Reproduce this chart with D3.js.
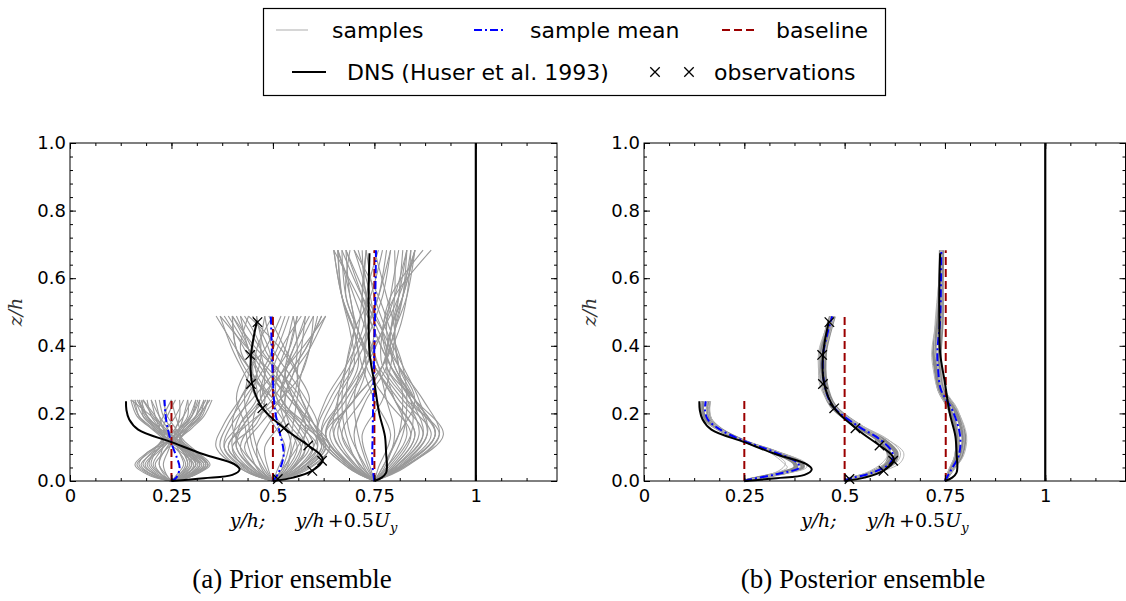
<!DOCTYPE html>
<html>
<head>
<meta charset="utf-8">
<script src="https://cdn.jsdelivr.net/npm/d3@7"></script>
<style>
  body { margin: 0; background: #fff; }
</style>
</head>
<body>
<script>
// ---- data (x = y/h + 0.5 Uy, z = z/h) ----
var stations = [0.25, 0.5, 0.75];

// DNS profiles (same in both panels)
var dnsZ1 = [0, 0.008, 0.018, 0.034, 0.05, 0.079, 0.115, 0.152, 0.182, 0.21, 0.236];
var dnsX1 = [0.25, 0.33, 0.40, 0.418, 0.405, 0.329, 0.25, 0.168, 0.146, 0.139, 0.138];
var dnsZ2 = [0, 0.01, 0.03, 0.062, 0.08, 0.105, 0.157, 0.216, 0.288, 0.372, 0.474];
var dnsX2 = [0.5, 0.55, 0.596, 0.623, 0.615, 0.587, 0.527, 0.474, 0.449, 0.446, 0.461];
var dnsZ3 = [0, 0.01, 0.025, 0.044, 0.08, 0.133, 0.2, 0.29, 0.379, 0.48, 0.575, 0.674];
var dnsX3 = [0.75, 0.768, 0.779, 0.781, 0.779, 0.776, 0.762, 0.75, 0.738, 0.736, 0.736, 0.738];

// observations
var obsZ = [0.006, 0.03, 0.06, 0.105, 0.156, 0.215, 0.287, 0.373, 0.47];
var obsX = [0.512, 0.597, 0.621, 0.587, 0.527, 0.474, 0.446, 0.444, 0.462];

// baseline heights
var baseTop = [0.24, 0.488, 0.683];
var baseX = [0.25, 0.5, 0.75];
var baseXPost = [0.25, 0.5, 0.752];

// prior mean
var priorMeanZ1 = [0, 0.01, 0.04, 0.07, 0.112, 0.16, 0.2, 0.24];
var priorMeanX1 = [0.25, 0.262, 0.27, 0.263, 0.25, 0.24, 0.235, 0.233];
var priorMeanZ2 = [0, 0.02, 0.072, 0.1, 0.142, 0.21, 0.3, 0.4, 0.487];
var priorMeanX2 = [0.5, 0.512, 0.526, 0.525, 0.517, 0.505, 0.5, 0.497, 0.495];
var priorMeanZ3 = [0, 0.05, 0.15, 0.3, 0.45, 0.6, 0.683];
var priorMeanX3 = [0.75, 0.745, 0.746, 0.748, 0.751, 0.753, 0.754];

// prior samples: offsets from station at these heights
var priorZ1 = [0, 0.014, 0.048, 0.084, 0.12, 0.156, 0.192, 0.24];
var priorZ2 = [0, 0.03, 0.1, 0.17, 0.244, 0.317, 0.39, 0.488];
var priorZ3 = [0, 0.04, 0.137, 0.24, 0.34, 0.444, 0.546, 0.683];

var priorOff1 = [
  [0, .04, .08, .05, .01, -.03, -.06, -.08],
  [0, .05, .09, .06, .02, .03, .06, .08],
  [0, -.03, -.07, -.05, -.02, .02, .05, .07],
  [0, -.04, -.08, -.06, -.01, -.04, -.07, -.09],
  [0, .02, .05, .03, .0, -.02, -.03, -.04],
  [0, .03, .06, .04, .02, .04, .07, .09],
  [0, -.02, -.04, -.02, .0, .02, .03, .04],
  [0, .035, .07, .05, .025, .0, -.02, -.03],
  [0, -.035, -.065, -.04, -.015, -.03, -.05, -.06],
  [0, .045, .085, .055, .015, -.02, -.05, -.1],
  [0, .01, .03, .02, .01, .03, .05, .06],
  [0, -.01, -.03, -.02, .01, .03, .06, .085],
  [0, .04, .075, .04, -.005, -.04, -.07, -.07],
  [0, -.045, -.085, -.055, -.02, .01, .02, .02],
  [0, .03, .06, .035, -.01, -.045, -.08, -.095],
  [0, .02, .04, .03, .02, .04, .06, .07],
  [0, -.02, -.05, -.04, -.02, -.03, -.04, -.05],
  [0, .05, .09, .06, .025, .02, .01, .0],
  [0, .035, .065, .045, .02, .045, .075, .09],
  [0, -.03, -.06, -.035, .0, .04, .07, .08],
  [0, .025, .05, .04, .0, -.05, -.085, -.1],
  [0, .015, .035, .02, -.01, -.02, -.01, .01],
  [0, -.015, -.03, -.025, -.02, -.05, -.08, -.09],
  [0, .04, .07, .03, .01, .01, .03, .05],
  [0, .045, .08, .045, .005, -.01, -.03, -.05],
  [0, -.025, -.055, -.045, -.025, -.01, .01, .03],
  [0, .03, .055, .025, -.015, -.03, -.02, .0],
  [0, -.04, -.075, -.045, -.005, .025, .045, .06],
  [0, .05, .095, .065, .03, .01, -.01, -.02],
  [0, .02, .045, .035, .015, -.015, -.045, -.07],
  [0, -.01, -.02, -.01, .005, .035, .065, .095],
  [0, .035, .07, .04, .0, .02, .04, .04],
  [0, -.05, -.09, -.06, -.02, -.02, -.04, -.07],
  [0, .04, .085, .06, .02, -.03, -.06, -.085],
  [0, .025, .06, .045, .02, .05, .08, .1],
  [0, -.02, -.045, -.03, -.01, -.04, -.06, -.075],
  [0, .045, .09, .05, .01, .025, .05, .065],
  [0, .015, .04, .03, .005, -.035, -.065, -.08]
];
var priorOff2 = [
  [0, .06, .12, .08, .05, .03, .06, .1],
  [0, -.05, -.1, -.09, -.06, -.04, -.07, -.12],
  [0, .04, .09, .06, .02, -.03, -.06, -.08],
  [0, -.04, -.08, -.05, .0, .04, .08, .12],
  [0, .07, .13, .1, .06, .02, -.02, -.04],
  [0, -.06, -.12, -.1, -.05, .0, .04, .06],
  [0, .03, .06, .03, -.01, -.05, -.09, -.14],
  [0, .02, .04, .05, .06, .07, .09, .11],
  [0, -.02, -.05, -.06, -.07, -.06, -.05, -.04],
  [0, .05, .1, .11, .08, .04, .0, -.02],
  [0, -.03, -.07, -.03, .02, .05, .06, .05],
  [0, .06, .11, .06, .0, -.04, -.04, .0],
  [0, -.07, -.13, -.11, -.07, -.03, .0, .03],
  [0, .01, .03, .0, -.04, -.07, -.1, -.13],
  [0, .045, .08, .04, .03, .05, .09, .13],
  [0, -.045, -.09, -.08, -.04, -.05, -.09, -.1],
  [0, .08, .14, .1, .04, .0, .02, .07],
  [0, -.01, -.02, .02, .05, .06, .03, -.01],
  [0, .03, .05, .07, .09, .06, .02, -.06],
  [0, -.035, -.06, -.07, -.09, -.07, -.02, .02],
  [0, .055, .1, .07, .02, .03, .05, .09],
  [0, -.05, -.11, -.06, .02, .07, .09, .1],
  [0, .02, .06, .09, .07, .02, -.04, -.1],
  [0, -.06, -.1, -.04, -.02, -.05, -.08, -.06],
  [0, .04, .07, .02, -.03, -.02, .01, .04],
  [0, -.025, -.04, -.01, .03, .01, -.03, -.08],
  [0, .065, .125, .09, .04, -.01, -.05, -.09],
  [0, -.055, -.11, -.07, -.02, .02, .05, .08],
  [0, .035, .07, .08, .05, .03, .04, .06],
  [0, -.03, -.08, -.1, -.08, -.05, -.06, -.1],
  [0, .075, .14, .08, .02, .04, .08, .12],
  [0, .025, .045, .03, .01, -.02, -.06, -.11],
  [0, -.065, -.12, -.08, -.03, -.02, -.03, -.02],
  [0, .05, .11, .09, .05, .0, -.06, -.13],
  [0, -.015, -.04, -.05, -.03, .02, .07, .13],
  [0, .06, .12, .1, .07, .06, .07, .08],
  [0, -.04, -.09, -.07, -.02, .0, -.01, -.05],
  [0, .04, .08, .05, .0, -.06, -.09, -.1],
  [0, -.07, -.14, -.12, -.08, -.04, -.03, -.07],
  [0, .07, .13, .07, .01, .01, .03, .05]
];
var priorOff3 = [
  [0, .06, .15, .1, .05, .04, .07, .1],
  [0, -.05, -.12, -.08, -.04, -.05, -.08, -.1],
  [0, .05, .12, .06, .0, -.04, -.06, -.07],
  [0, -.04, -.1, -.05, .02, .05, .07, .08],
  [0, .07, .16, .12, .06, .01, -.02, -.03],
  [0, -.06, -.13, -.1, -.05, -.01, .02, .04],
  [0, .03, .08, .05, .0, -.05, -.08, -.09],
  [0, .02, .06, .07, .06, .05, .07, .09],
  [0, -.02, -.06, -.07, -.06, -.04, -.03, -.02],
  [0, .055, .13, .11, .07, .03, .0, -.02],
  [0, -.03, -.08, -.03, .02, .04, .05, .05],
  [0, .06, .14, .07, .01, -.02, -.02, .01],
  [0, -.065, -.14, -.11, -.06, -.02, .01, .03],
  [0, .01, .04, .0, -.03, -.05, -.08, -.1],
  [0, .045, .1, .05, .03, .05, .08, .1],
  [0, -.045, -.1, -.09, -.05, -.06, -.08, -.09],
  [0, .065, .15, .09, .04, .02, .05, .14],
  [0, -.01, -.03, .02, .04, .05, .03, .0],
  [0, .03, .07, .08, .07, .04, .01, -.05],
  [0, -.035, -.07, -.08, -.07, -.05, -.01, .02],
  [0, .05, .11, .08, .03, .04, .06, .08],
  [0, -.05, -.11, -.05, .02, .06, .08, .09],
  [0, .02, .06, .1, .06, .02, -.03, -.08],
  [0, -.055, -.12, -.05, -.02, -.04, -.07, -.06],
  [0, .04, .09, .03, -.02, -.02, .01, .04],
  [0, -.025, -.05, -.02, .03, .02, -.02, -.07],
  [0, .065, .15, .1, .04, .0, -.03, -.07],
  [0, -.055, -.12, -.07, -.02, .02, .05, .08],
  [0, .035, .09, .09, .05, .03, .04, .06],
  [0, -.03, -.08, -.09, -.07, -.05, -.06, -.09],
  [0, .07, .17, .1, .03, .04, .07, .1],
  [0, .025, .05, .03, .01, -.02, -.05, -.09],
  [0, -.06, -.13, -.08, -.03, -.02, -.03, -.02],
  [0, .05, .12, .09, .04, .0, -.04, -.1],
  [0, -.015, -.04, -.05, -.03, .02, .06, .1],
  [0, .06, .13, .1, .06, .05, .06, .07],
  [0, -.04, -.09, -.06, -.02, .0, -.01, -.04],
  [0, .045, .1, .05, .0, -.04, -.07, -.08],
  [0, -.065, -.14, -.12, -.07, -.03, -.02, -.05],
  [0, .075, .16, .08, .02, .02, .04, .12]
];

// posterior mean
var postZ1 = [0, 0.005, 0.02, 0.04, 0.054, 0.084, 0.118, 0.152, 0.182, 0.21, 0.236];
var postMean1 = [0.25, 0.266, 0.329, 0.387, 0.382, 0.329, 0.25, 0.19, 0.159, 0.152, 0.154];
var postZ2 = [0, 0.005, 0.025, 0.054, 0.084, 0.123, 0.162, 0.221, 0.29, 0.379, 0.44, 0.487];
var postMean2 = [0.5, 0.507, 0.57, 0.614, 0.619, 0.588, 0.534, 0.471, 0.449, 0.447, 0.458, 0.469];
var postZ3 = [0, 0.034, 0.074, 0.133, 0.211, 0.27, 0.33, 0.379, 0.477, 0.58, 0.683];
var postMean3 = [0.75, 0.766, 0.784, 0.788, 0.768, 0.74, 0.733, 0.731, 0.738, 0.74, 0.741];

// posterior samples: offsets from posterior mean
var postOff1 = [
  [0, .002, .006, .01, .012, .006, .002, .004, .008, .009, .01],
  [0, -.002, -.008, -.012, -.01, -.005, -.002, -.004, -.008, -.009, -.009],
  [0, .001, .003, .005, .006, .003, .0, .002, .004, .005, .006],
  [0, -.001, -.004, -.006, -.006, -.003, .0, -.002, -.004, -.005, -.006],
  [0, .0, -.01, -.03, -.035, -.015, -.002, .005, .01, .012, .012],
  [0, -.003, -.012, -.04, -.03, -.01, .0, .003, .007, .008, .01],
  [0, .003, .01, .018, .02, .01, .003, .001, .002, .004, .005],
  [0, .0, .002, .002, .0, .0, .001, -.006, -.01, -.01, -.01]
];
var postOff2 = [
  [0, .002, .006, .01, .012, .01, .008, .006, .006, .006, .006, .006],
  [0, -.002, -.006, -.01, -.012, -.008, -.006, -.005, -.006, -.007, -.006, -.005],
  [0, .001, .003, .005, .006, .005, .004, .003, .003, .003, .003, .003],
  [0, -.001, -.003, -.005, -.006, -.004, -.003, -.003, -.003, -.003, -.003, -.003],
  [0, .003, .012, .025, .028, .018, .008, .0, -.008, -.012, -.008, -.004],
  [0, -.003, -.015, -.02, -.01, .0, .004, .003, -.004, -.01, -.006, .0],
  [0, .0, .005, .015, .02, .02, .012, -.002, -.012, -.005, .002, .004],
  [0, -.002, -.008, -.012, -.004, .006, .01, .006, .0, .004, .006, .006]
];
var postOff3 = [
  [0, .004, .008, .012, .01, .006, .006, .008, .006, .004, .004],
  [0, -.004, -.008, -.01, -.008, -.006, -.008, -.01, -.008, -.004, -.003],
  [0, .002, .004, .006, .005, .003, .003, .004, .003, .002, .002],
  [0, -.002, -.004, -.005, -.004, -.003, -.004, -.005, -.004, -.002, -.002],
  [0, .006, .012, .016, .012, .004, .0, -.003, -.002, .0, .002],
  [0, -.006, -.01, -.012, -.01, -.008, -.012, -.014, -.01, -.005, -.002],
  [0, .003, .006, .01, .014, .01, .008, .006, .004, .002, .0],
  [0, .0, -.002, -.004, .0, .004, .002, -.006, -.012, -.006, -.001]
];

var xTicks = [0, 0.25, 0.5, 0.75, 1];
var yTicks = [0, 0.2, 0.4, 0.6, 0.8, 1.0];

// ---- drawing ----
var W = 1126, H = 601;
var svg = d3.select("body").append("svg")
  .attr("width", W).attr("height", H)
  .style("display", "block");

var pair = function(xs, zs) { return zs.map(function(z, i) { return [xs[i], z]; }); };

var dnsLines = [pair(dnsX1, dnsZ1), pair(dnsX2, dnsZ2), pair(dnsX3, dnsZ3)];
var priorMeans = [pair(priorMeanX1, priorMeanZ1), pair(priorMeanX2, priorMeanZ2), pair(priorMeanX3, priorMeanZ3)];
var priorZ = [priorZ1, priorZ2, priorZ3];
var priorOff = [priorOff1, priorOff2, priorOff3];
var postZ = [postZ1, postZ2, postZ3];
var postMean = [postMean1, postMean2, postMean3];
var postOff = [postOff1, postOff2, postOff3];

var panels = [
  { x0: 70, x1: 557, cap: "(a) Prior ensemble", capX: 292, prior: true },
  { x0: 644, x1: 1125.5, cap: "(b) Posterior ensemble", capX: 863, prior: false }
];

var y = d3.scaleLinear().domain([0, 1]).range([481, 143]);

var blue = "#0000ff";
var red = "#9b0000";

panels.forEach(function(p) {
  var x = d3.scaleLinear().domain([0, 1.2]).range([p.x0, p.x1]);
  var g = svg.append("g");
  var line = d3.line()
    .x(function(d) { return x(d[0]); })
    .y(function(d) { return y(d[1]); })
    .curve(d3.curveCatmullRom.alpha(0.5));

  // samples
  stations.forEach(function(s, i) {
    if (p.prior) {
      priorOff[i].forEach(function(off) {
        var pts = priorZ[i].map(function(z, k) { return [s + off[k], z]; });
        g.append("path").attr("d", line(pts))
          .attr("fill", "none").attr("stroke", "#999")
          .attr("stroke-width", 1.1);
      });
    } else {
      postOff[i].forEach(function(off, j) {
        var pts = postZ[i].map(function(z, k) { return [postMean[i][k] + off[k], z]; });
        g.append("path").attr("d", line(pts))
          .attr("fill", "none").attr("stroke", j < 4 ? "#8a8a8a" : "#b5b5b5")
          .attr("stroke-width", j < 4 ? 2.5 : 1);
      });
    }
  });

  // vertical line at x = 1
  g.append("line")
    .attr("x1", x(1)).attr("x2", x(1)).attr("y1", y(0)).attr("y2", y(1))
    .attr("stroke", "#000").attr("stroke-width", 2.2);

  // baseline
  stations.forEach(function(s, i) {
    var bx = p.prior ? baseX[i] : baseXPost[i];
    g.append("path").attr("d", line([[bx, 0], [bx, baseTop[i]]]))
      .attr("fill", "none").attr("stroke", red)
      .attr("stroke-width", 2).attr("stroke-dasharray", "8,4");
  });

  // mean
  stations.forEach(function(s, i) {
    var pts = p.prior ? priorMeans[i] : pair(postMean[i], postZ[i]);
    g.append("path").attr("d", line(pts))
      .attr("fill", "none").attr("stroke", blue)
      .attr("stroke-width", 2).attr("stroke-dasharray", "8,3,2,3");
  });

  // DNS
  dnsLines.forEach(function(pts) {
    g.append("path").attr("d", line(pts))
      .attr("fill", "none").attr("stroke", "#000").attr("stroke-width", 2);
  });

  // observations
  g.selectAll(".obs").data(d3.range(obsX.length)).enter()
    .append("path").attr("class", "obs")
    .attr("transform", function(i) { return "translate(" + x(obsX[i]) + "," + y(obsZ[i]) + ")"; })
    .attr("d", d3.symbol(d3.symbolX, 60)())
    .attr("fill", "none").attr("stroke", "#000").attr("stroke-width", 1.3);

  // axes
  var minorX = d3.range(0, 19).map(function(k) { return k * 0.0625; });
  var minorY = d3.range(0, 26).map(function(k) { return k * 0.04; });
  var styleAxis = function(a) {
    a.select(".domain").remove();
    a.attr("font-family", "DejaVu Sans").attr("font-size", 18);
    a.selectAll("line").attr("stroke", "#000");
  };
  g.append("g").attr("transform", "translate(0," + y(0) + ")")
    .call(d3.axisBottom(x).tickValues(xTicks).tickSize(-6).tickPadding(8).tickFormat(d3.format("")))
    .call(styleAxis);
  g.append("g").attr("transform", "translate(0," + y(0) + ")")
    .call(d3.axisBottom(x).tickValues(minorX).tickSize(-3).tickFormat(""))
    .call(styleAxis);
  g.append("g").attr("transform", "translate(0," + y(1) + ")")
    .call(d3.axisTop(x).tickValues(xTicks).tickSize(-6).tickFormat(""))
    .call(styleAxis);
  g.append("g").attr("transform", "translate(0," + y(1) + ")")
    .call(d3.axisTop(x).tickValues(minorX).tickSize(-3).tickFormat(""))
    .call(styleAxis);
  g.append("g").attr("transform", "translate(" + p.x0 + ",0)")
    .call(d3.axisLeft(y).tickValues(yTicks).tickSize(-6).tickPadding(4).tickFormat(d3.format(".1f")))
    .call(styleAxis);
  g.append("g").attr("transform", "translate(" + p.x0 + ",0)")
    .call(d3.axisLeft(y).tickValues(minorY).tickSize(-3).tickFormat(""))
    .call(styleAxis);
  g.append("g").attr("transform", "translate(" + x(1.2) + ",0)")
    .call(d3.axisRight(y).tickValues(yTicks).tickSize(-6).tickFormat(""))
    .call(styleAxis);
  g.append("g").attr("transform", "translate(" + x(1.2) + ",0)")
    .call(d3.axisRight(y).tickValues(minorY).tickSize(-3).tickFormat(""))
    .call(styleAxis);

  g.append("rect")
    .attr("x", x(0)).attr("y", y(1))
    .attr("width", x(1.2) - x(0)).attr("height", y(0) - y(1))
    .attr("fill", "none").attr("stroke", "#000").attr("stroke-width", 1);

  // axis labels
  var xl = g.append("text")
    .attr("x", (x(0) + x(1.2)) / 2).attr("y", 527)
    .attr("text-anchor", "middle")
    .attr("font-family", "DejaVu Serif").attr("font-size", 19);
  xl.append("tspan").attr("font-style", "italic").text("y/h;");
  xl.append("tspan").attr("font-style", "italic").attr("dx", 30).text("y/h");
  xl.append("tspan").attr("dx", 3).text("+0.5");
  xl.append("tspan").attr("font-style", "italic").text("U");
  xl.append("tspan").attr("font-style", "italic").attr("font-size", 13).attr("dy", 5).text("y");

  g.append("text")
    .attr("transform", "translate(" + (x(0) - 48) + "," + y(0.5) + ") rotate(-90)")
    .attr("text-anchor", "middle")
    .attr("font-family", "DejaVu Serif").attr("font-style", "italic").attr("font-size", 19)
    .attr("fill", "#333")
    .text("z/h");

  g.append("text")
    .attr("x", p.capX).attr("y", 588)
    .attr("text-anchor", "middle")
    .attr("font-family", "Liberation Serif").attr("font-size", 27)
    .text(p.cap);
});

// ---- legend ----
var lg = svg.append("g");
lg.append("rect").attr("x", 263.5).attr("y", 8.5).attr("width", 622).attr("height", 87)
  .attr("fill", "#fff").attr("stroke", "#000").attr("stroke-width", 1.2);
var legFont = function(t) { return t.attr("font-family", "DejaVu Sans").attr("font-size", 22); };
var r1 = 30, r2 = 72;
lg.append("line").attr("x1", 276).attr("x2", 308).attr("y1", r1).attr("y2", r1)
  .attr("stroke", "#bbb").attr("stroke-width", 1.2);
legFont(lg.append("text").attr("x", 332).attr("y", r1 + 8).text("samples"));
lg.append("line").attr("x1", 474).attr("x2", 506).attr("y1", r1).attr("y2", r1)
  .attr("stroke", blue).attr("stroke-width", 2).attr("stroke-dasharray", "8,3,2,3");
legFont(lg.append("text").attr("x", 530).attr("y", r1 + 8).text("sample mean"));
lg.append("line").attr("x1", 722).attr("x2", 754).attr("y1", r1).attr("y2", r1)
  .attr("stroke", red).attr("stroke-width", 2).attr("stroke-dasharray", "8,4");
legFont(lg.append("text").attr("x", 776).attr("y", r1 + 8).text("baseline"));
lg.append("line").attr("x1", 292).attr("x2", 326).attr("y1", r2).attr("y2", r2)
  .attr("stroke", "#000").attr("stroke-width", 2);
legFont(lg.append("text").attr("x", 347).attr("y", r2 + 8).text("DNS (Huser et al. 1993)"));
[655, 689].forEach(function(mx) {
  lg.append("path").attr("transform", "translate(" + mx + "," + r2 + ")")
    .attr("d", d3.symbol(d3.symbolX, 60)())
    .attr("fill", "none").attr("stroke", "#000").attr("stroke-width", 1.3);
});
legFont(lg.append("text").attr("x", 714).attr("y", r2 + 8).text("observations"));
</script>
</body>
</html>
